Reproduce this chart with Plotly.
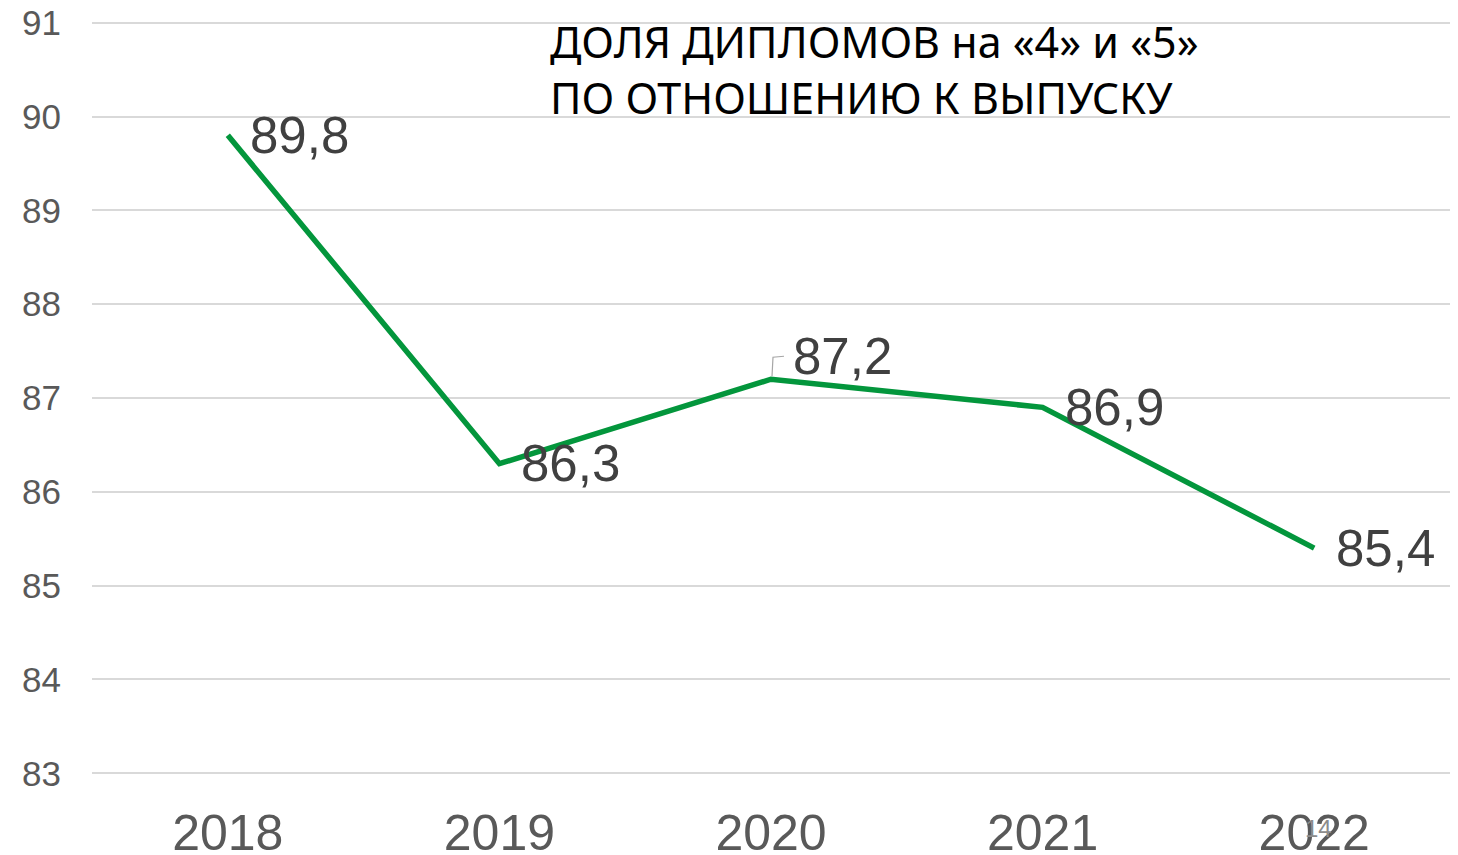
import plotly.graph_objects as go

years = ["2018", "2019", "2020", "2021", "2022"]
values = [89.8, 86.3, 87.2, 86.9, 85.4]
labels = ["89,8", "86,3", "87,2", "86,9", "85,4"]
label_yshift = [0, 0, 23, 0, 0]
y_ticks = [83, 84, 85, 86, 87, 88, 89, 90, 91]

fig = go.Figure()
fig.add_trace(go.Scatter(
    x=years, y=values, mode="lines",
    line=dict(color="#03963C", width=5.5),
    hoverinfo="skip", showlegend=False,
))

for i, (y, t, ys) in enumerate(zip(values, labels, label_yshift)):
    fig.add_annotation(
        x=i, y=y, text=t, showarrow=False, xanchor="left", yanchor="middle",
        xshift=20, yshift=ys,
        font=dict(family="Liberation Sans, Arial, sans-serif", size=51, color="#404040"),
    )

# leader line for the shifted 2020 label
fig.add_shape(
    type="path", xref="x", yref="y", xsizemode="pixel", ysizemode="pixel",
    xanchor=2, yanchor=values[2],
    path="M 1,3 L 2,22 L 13,23",
    line=dict(color="#A6A6A6", width=1.2),
)

fig.add_annotation(
    xref="paper", yref="paper", x=0.336, y=1.0104, xanchor="left", yanchor="top",
    text="ДОЛЯ ДИПЛОМОВ на «4» и «5»<br>ПО ОТНОШЕНИЮ К ВЫПУСКУ",
    showarrow=False, align="left",
    font=dict(family="Noto Sans, sans-serif", size=43, color="#000000"),
)

fig.add_annotation(
    xref="paper", yref="paper", x=0.903, y=-0.066, xanchor="center", yanchor="middle",
    text="14", showarrow=False,
    font=dict(family="Liberation Sans, Arial, sans-serif", size=24, color="#8C8C8C"),
)

fig.update_layout(
    width=1458, height=855,
    margin=dict(l=84, r=16, t=10, b=85, autoexpand=False),
    paper_bgcolor="white", plot_bgcolor="white",
    xaxis=dict(
        type="category", range=[-0.5, 4.5], showgrid=False, zeroline=False,
        showline=False, ticks="", ticklabelstandoff=21, automargin=False,
        ticklabeloverflow="allow",
        tickfont=dict(family="Liberation Sans, Arial, sans-serif", size=50, color="#595959"),
    ),
    yaxis=dict(
        range=[82.95, 91.05], tickvals=y_ticks, showgrid=True, gridcolor="#D9D9D9",
        gridwidth=1.5, zeroline=False, showline=False, ticks="",
        ticklabelstandoff=30, automargin=False, ticklabeloverflow="allow",
        tickfont=dict(family="Liberation Sans, Arial, sans-serif", size=35, color="#595959"),
    ),
)

fig.write_html("out.html")
